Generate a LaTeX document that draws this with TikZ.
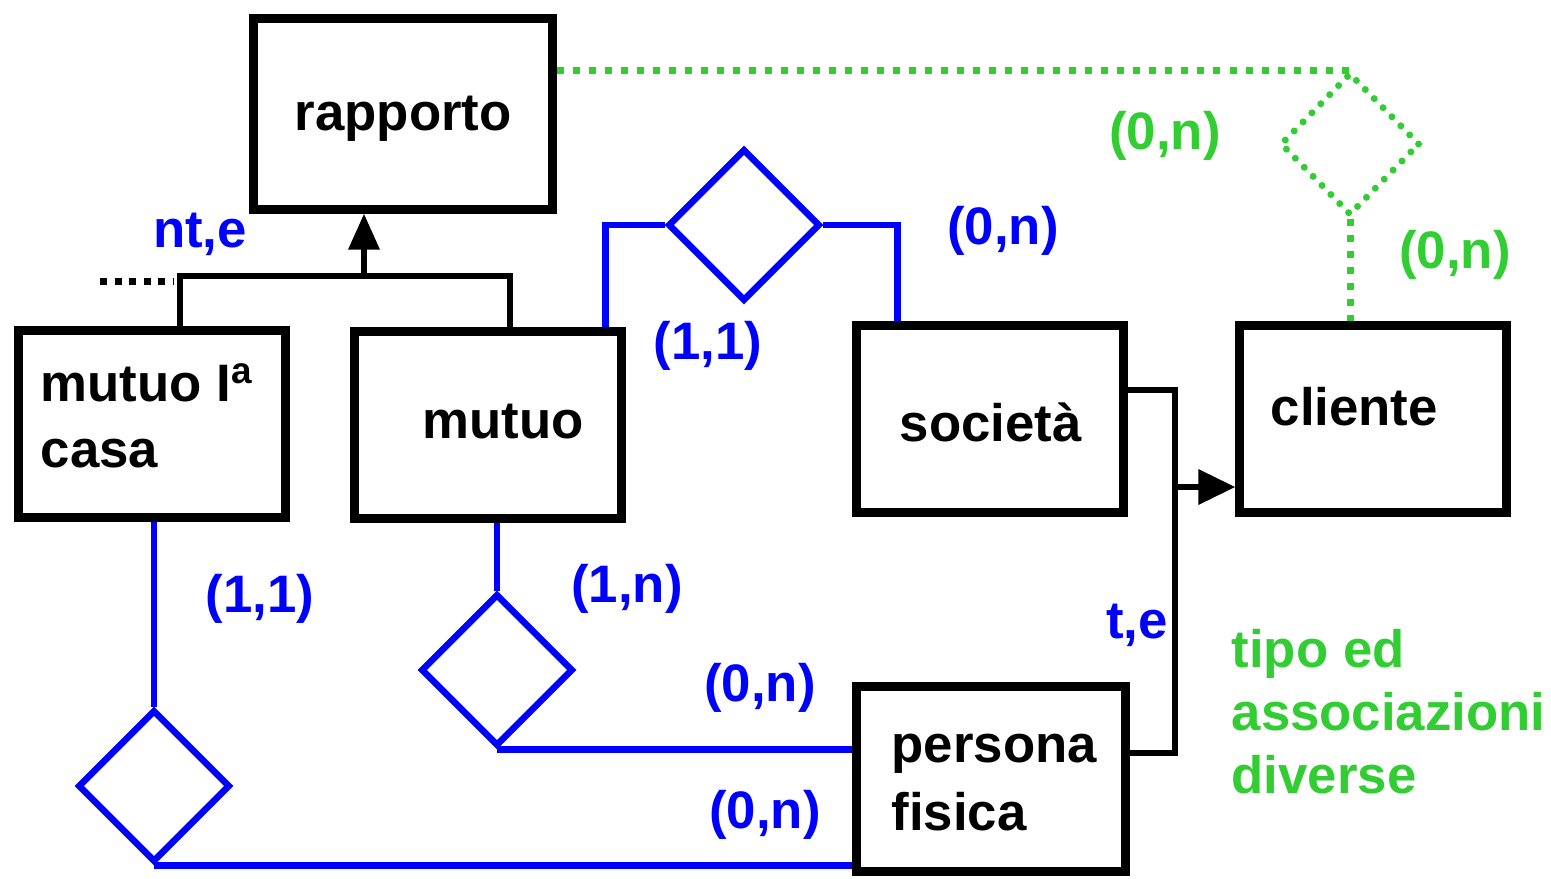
\documentclass[tikz,border=0pt]{standalone}
\usepackage{fontspec}
\setmainfont{Liberation Sans}
\usetikzlibrary{shapes.geometric,arrows.meta}
\definecolor{verde}{RGB}{50,205,50}

\begin{document}
\begin{tikzpicture}[x=0.01cm,y=-0.01cm,
    font=\fontsize{15}{18.5}\selectfont\bfseries,
    entita/.style={draw,line width=0.09cm,minimum width=2.66cm,minimum height=1.87cm,inner sep=0pt},
    relazione/.style={draw=blue,diamond,line width=0.065cm,minimum width=1.52cm,minimum height=1.52cm,inner sep=0pt},
    ramo/.style={draw=blue,line width=0.065cm},
    gerarchia/.style={draw,line width=0.065cm},
    card/.style={text=blue,inner sep=0pt},
    nota/.style={text=verde,inner sep=0pt},
    testo/.style={inner sep=0pt,anchor=base west}]
    \useasboundingbox (0,0) rectangle (1551,878);

    % Entita
    \node[entita,minimum width=2.99cm,minimum height=1.90cm] (rapporto) at (403,114) {};
    \node[entita] (casa) at (152,424) {};
    \node[entita] (mutuo) at (488,425) {};
    \node[entita] (societa) at (990,419) {};
    \node[entita] (cliente) at (1373,419) {};
    \node[entita,minimum width=2.69cm,minimum height=1.84cm] (persona) at (991,779) {};

    % Nomi delle entita (per due righe la base e' quella dell'ultima riga)
    \node[testo] (trapporto) at (294,130) {rapporto};
    \node[testo,align=left,font=\fontsize{15}{18.5}\selectfont\bfseries] (tcasa) at (40,467) {mutuo I\textsuperscript{a}\\casa};
    \node[testo] (tmutuo) at (422,438) {mutuo};
    \node[testo] (tsocieta) at (899,441) {società};
    \node[testo] (tcliente) at (1270,425) {cliente};
    \node[testo,align=left,font=\fontsize{15}{19.3}\selectfont\bfseries] (tpersona) at (891,830) {persona\\fisica};

    % Gerarchia su rapporto
    \coordinate (g1) at (364,276);
    \draw[gerarchia,-{Triangle[width=0.3cm,length=0.36cm]}] (g1) -- (g1 |- rapporto.south);
    \draw[gerarchia] ([xshift=0.28cm]casa.north) |- (g1) -| ([xshift=0.22cm]mutuo.north);
    \coordinate (puntini) at (100,281);
    \draw[gerarchia,line width=0.07cm,dash pattern=on 0.07cm off 0.075cm] (puntini) -- (173,281);
    \node[card] (nte) at (200,234) {nt,e};

    % Gerarchia su cliente
    \coordinate (g2) at (1175,487);
    \draw[gerarchia] ([yshift=0.29cm]societa.east) -| (g2) |- ([yshift=0.26cm]persona.east);
    \draw[gerarchia,-{Triangle[width=0.34cm,length=0.37cm]}] (g2) -- (g2 -| cliente.west);
    \node[card] (te) at (1137,625) {t,e};

    % Relazione mutuo - societa
    \node[relazione] (r1) at (744,225) {};
    \draw[ramo] ([xshift=-0.2cm]mutuo.north east) |- (r1.west);
    \draw[ramo] (r1.east) -| ([xshift=0.45cm]societa.north west);
    \node[card] (c1) at (708,346) {(1,1)};
    \node[card] (c2) at (1003,231) {(0,n)};

    % Relazione mutuo - persona fisica
    \node[relazione] (r2) at (497,670) {};
    \draw[ramo] (r2.north) -- (r2.north |- mutuo.south);
    \draw[ramo] (r2.south) -- (r2.south -| persona.west);
    \node[card] (c3) at (627,589) {(1,n)};
    \node[card] (c4) at (760,688) {(0,n)};

    % Relazione mutuo Ia casa - persona fisica
    \node[relazione] (r3) at (154,786) {};
    \draw[ramo] (r3.north) -- (r3.north |- casa.south);
    \draw[ramo] (r3.south) -- (r3.south -| persona.west);
    \node[card] (c5) at (260,599) {(1,1)};
    \node[card] (c6) at (765,815) {(0,n)};

    % Relazione rapporto - cliente
    \node[diamond,draw=verde,line width=0.07cm,dash pattern=on 0pt off 0.127cm,line cap=round,
        minimum width=1.40cm,minimum height=1.43cm,inner sep=0pt] (r4) at (1350,144) {};
    \draw[draw=verde,line width=0.07cm,dash pattern=on 0.07cm off 0.09cm]
        ([yshift=0.43cm]rapporto.east) -- ([yshift=0.43cm]rapporto.east -| r4.north) -- (r4.north);
    \draw[draw=verde,line width=0.07cm,dash pattern=on 0.07cm off 0.09cm] (r4.south) -- (r4.south |- cliente.north);
    \node[nota] (c7) at (1165,136) {(0,n)};
    \node[nota] (c8) at (1455,255) {(0,n)};
    \node[testo,nota,align=left,font=\fontsize{15}{17.9}\selectfont\bfseries] (tnota) at (1231,793) {tipo ed\\associazioni\\diverse};
\end{tikzpicture}
\end{document}
